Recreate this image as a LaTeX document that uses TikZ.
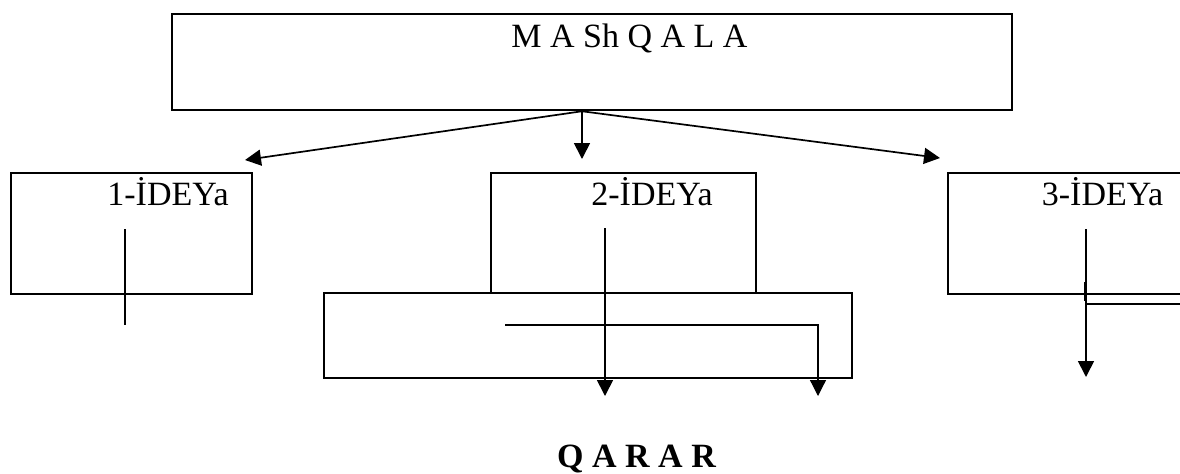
\documentclass[tikz,border=0pt]{standalone}
\usepackage{fontspec}
\setmainfont{Liberation Serif}
\usetikzlibrary{arrows.meta}

\begin{document}
\begin{tikzpicture}[x=0.5pt,y=-0.5pt,>={Triangle[length=8pt,width=8pt]},
    box/.style={draw,line width=1.25pt,inner sep=0pt},
    title/.style={inner sep=0pt,anchor=base,font=\fontsize{17pt}{20pt}\selectfont},
    link/.style={->,line width=0.85pt}]
  \useasboundingbox (0,0) rectangle (1180,473);

  % boxes
  \node[box,minimum width=420pt,minimum height=48pt] (masq) at (592,62) {};
  \node[box,minimum width=120.5pt,minimum height=60.5pt] (idea1) at (131.5,233.5) {};
  \node[box,minimum width=132.5pt,minimum height=60pt] (idea2) at (623.5,233) {};
  \node[box,minimum width=131pt,minimum height=60.5pt] (idea3) at (1079,233.5) {};
  \node[box,minimum width=264pt,minimum height=42.5pt] (mid) at (588,335.5) {};

  % texts
  \node[title] (lmasq) at (629.5,47) {M A Sh Q A L A};
  \node[title] (lidea1) at (168,205) {1-İDEYa};
  \node[title] (lidea2) at (652,205) {2-İDEYa};
  \node[title] (lidea3) at (1102.5,205) {3-İDEYa};
  \node[title,font=\fontsize{17pt}{20pt}\selectfont\bfseries] (qarar) at (636.5,467) {Q A R A R};

  % MAShQALA -> ideas
  \coordinate (fork) at ([xshift=-5pt]masq.south);
  \coordinate (tip1) at (245,160);
  \coordinate (tip2) at (581,159);
  \coordinate (tip3) at (940,158);
  \draw[link] (fork) -- (tip1);
  \draw[link] (fork) -- (fork |- tip2);
  \draw[link] (fork) -- (tip3);

  % lines inside the ideas
  \coordinate (s1) at (125,229);
  \coordinate (e1) at (125,325);
  \coordinate (s2) at (605,228);
  \coordinate (e2) at (605,396);
  \coordinate (s4) at (505,325);
  \coordinate (e4) at (818,396);
  \coordinate (s3) at (1086,229);
  \coordinate (e3) at (1086,377);
  \draw[line width=0.85pt] (s1) -- (e1);
  \draw[link] (s2) -- (e2);
  \draw[link,line width=0.6pt] (s4) -| (e4);
  \draw[link] (s3) -- (e3);

  % 3-IDEYa side line
  \coordinate (k1) at (1085,282);
  \coordinate (k2) at (1085,301);
  \coordinate (h1) at (1086,304);
  \coordinate (h2) at (1200,304);
  \draw[line width=1.2pt] (k1) -- (k2);
  \draw[line width=0.6pt] (h1) -- (h2);
\end{tikzpicture}
\end{document}
